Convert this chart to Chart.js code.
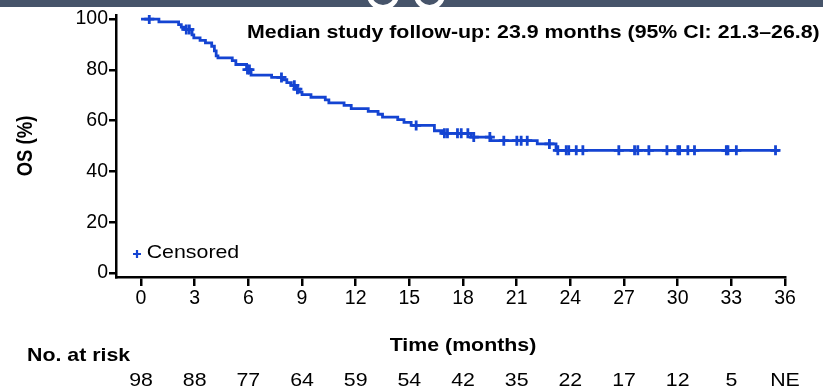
<!DOCTYPE html>
<html>
<head>
<meta charset="utf-8">
<script src="https://cdn.jsdelivr.net/npm/chart.js@4.4.1/dist/chart.umd.min.js"></script>
<style>
  html, body { margin: 0; padding: 0; background: #fff; }
  #wrap { position: relative; width: 823px; height: 388px; overflow: hidden; }
  #band { position: absolute; left: 0; top: 0; width: 823px; height: 7px; background: #46546a; overflow: hidden; }
  .blob { position: absolute; top: -20px; height: 20px; border: 5px solid #fff; border-radius: 50%; }
  canvas { position: absolute; left: 0; top: 0; }
</style>
</head>
<body>
<div id="wrap">
  <canvas id="myChart" width="823" height="388"></canvas>
  <div id="band">
    <div class="blob" style="left:367px;width:22px"></div>
    <div class="blob" style="left:414px;width:21px"></div>
  </div>
</div>
<script>
// KM step points: time (months) and OS (%) after the step
var kmTimes = [0, 1.0, 2.1, 2.25, 2.4, 2.85, 2.95, 3.3, 3.6, 3.95, 4.1, 4.2, 4.3, 5.1, 5.3, 5.9, 6.15, 7.3, 7.9, 8.15, 8.4, 8.6, 8.85, 9.0, 9.5, 10.3, 10.5, 11.35, 11.75, 12.7, 13.25, 13.5, 14.35, 14.7, 15.1, 16.4, 16.85, 18.45, 19.55, 22.15, 23.2, 35.7];
var kmSurv = [100, 98.9, 97.8, 96.8, 95.9, 93.8, 92.6, 91.6, 90.6, 89.3, 87.5, 85.5, 84.7, 83.6, 82.1, 80.1, 77.9, 77.0, 76.1, 75.0, 73.9, 72.4, 71.2, 70.2, 69.2, 68.2, 67.0, 66.0, 64.7, 63.6, 62.5, 61.4, 60.4, 59.3, 58.1, 56.0, 55.0, 53.5, 52.1, 50.8, 48.3, 48.3];
var censorTimes = [0.46, 2.53, 2.7, 5.95, 6.06, 7.85, 8.57, 8.74, 15.38, 16.96, 17.13, 17.69, 17.9, 18.27, 18.6, 19.5, 20.28, 21.01, 21.25, 21.59, 22.83, 23.3, 23.77, 23.91, 24.33, 24.7, 26.71, 27.59, 27.77, 28.39, 29.4, 30.01, 30.11, 30.57, 30.94, 32.72, 32.81, 33.28, 35.47];
var xTicks = [0, 3, 6, 9, 12, 15, 18, 21, 24, 27, 30, 33, 36];
var yTicks = [0, 20, 40, 60, 80, 100];
var atRisk = ['98', '88', '77', '64', '59', '54', '42', '35', '22', '17', '12', '5', 'NE'];

var blue = 'rgb(20,68,210)';
var fam = '"Liberation Sans", Arial, sans-serif';

function survAt(t) {
  var s = kmSurv[0];
  for (var i = 0; i < kmTimes.length; i++) {
    if (kmTimes[i] <= t) s = kmSurv[i];
  }
  return s;
}

// text stretched sideways like the original slide
function wideText(ctx, txt, x, y, align, font) {
  ctx.save();
  ctx.font = font;
  ctx.fillStyle = '#000';
  ctx.translate(x, y);
  ctx.scale(1.2, 1);
  ctx.textAlign = align;
  ctx.textBaseline = 'alphabetic';
  ctx.fillText(txt, 0, 0);
  ctx.restore();
}

var extras = {
  id: 'extras',
  afterDraw: function(chart) {
    var ctx = chart.ctx;
    var xs = chart.scales.x;
    wideText(ctx, 'Median study follow-up: 23.9 months (95% CI: 21.3\u201326.8)', 247, 38, 'left', 'bold 17.8px ' + fam);
    wideText(ctx, 'Time (months)', 463, 351, 'center', 'bold 17.8px ' + fam);
    wideText(ctx, 'No. at risk', 27, 361, 'left', 'bold 17.8px ' + fam);
    for (var i = 0; i < xTicks.length; i++) {
      wideText(ctx, atRisk[i], xs.getPixelForValue(xTicks[i]), 386, 'center', '17.8px ' + fam);
    }
    wideText(ctx, 'Censored', 146.7, 258, 'left', '17.8px ' + fam);
    // legend marker
    ctx.save();
    ctx.strokeStyle = blue;
    ctx.lineWidth = 2.2;
    ctx.beginPath();
    ctx.moveTo(133, 254); ctx.lineTo(141, 254);
    ctx.moveTo(137, 250); ctx.lineTo(137, 258);
    ctx.stroke();
    ctx.restore();
    // y title
    ctx.save();
    ctx.translate(32, 146);
    ctx.rotate(-Math.PI / 2);
    ctx.scale(1, 1.2);
    ctx.font = 'bold 18.5px ' + fam;
    ctx.fillStyle = '#000';
    ctx.textAlign = 'center';
    ctx.fillText('OS (%)', 0, 0);
    ctx.restore();
  }
};

var ctx = document.getElementById('myChart').getContext('2d');
var myChart = new Chart(ctx, {
  type: 'line',
  data: {
    datasets: [{
      label: 'OS',
      data: kmTimes.map(function(t, i) { return { x: t, y: kmSurv[i] }; }),
      borderColor: blue,
      borderWidth: 2.8,
      stepped: 'before',
      pointRadius: 0,
      fill: false,
      order: 2
    }, {
      label: 'Censored',
      type: 'scatter',
      data: censorTimes.map(function(t) { return { x: t, y: survAt(t) }; }),
      pointStyle: 'cross',
      pointRadius: 5,
      borderColor: blue,
      borderWidth: 2.8,
      order: 1
    }]
  },
  options: {
    responsive: false,
    animation: false,
    layout: { padding: { left: 0, right: 38, top: 15, bottom: 0 } },
    plugins: { legend: { display: false }, tooltip: { enabled: false } },
    scales: {
      x: {
        type: 'linear',
        min: -1.4,
        max: 36,
        afterBuildTicks: function(s) { s.ticks = xTicks.map(function(v) { return { value: v }; }); },
        afterFit: function(s) { s.height = 111; },
        grid: { drawOnChartArea: false, color: '#000', lineWidth: 2.5, tickLength: 9 },
        border: { color: '#000', width: 2.5 },
        ticks: { color: '#000', font: { size: 19.5, family: fam }, padding: 1, maxRotation: 0, autoSkip: false }
      },
      y: {
        min: -1.6,
        max: 101.6,
        afterBuildTicks: function(s) { s.ticks = yTicks.map(function(v) { return { value: v }; }); },
        afterFit: function(s) { s.width = 116; },
        grid: { drawOnChartArea: false, color: '#000', lineWidth: 2.5, tickLength: 7 },
        border: { color: '#000', width: 2.5 },
        ticks: { color: '#000', font: { size: 19.5, family: fam }, padding: 1 }
      }
    }
  },
  plugins: [extras]
});
</script>
</body>
</html>
